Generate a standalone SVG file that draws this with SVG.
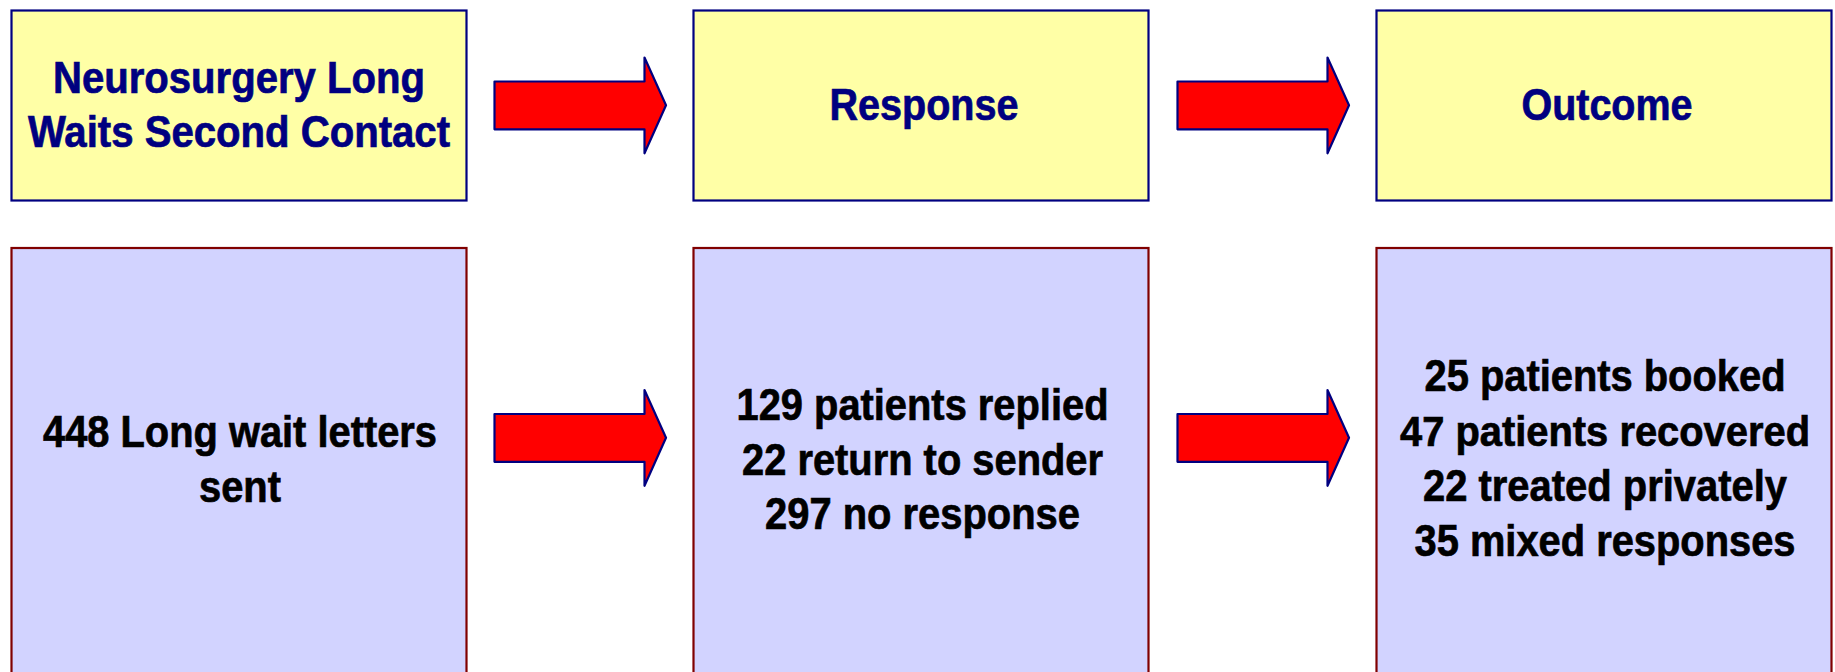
<svg xmlns="http://www.w3.org/2000/svg" width="1835" height="672" viewBox="0 0 1835 672">
<style>
.hdr{fill:#FFFFA6;stroke:#000080;stroke-width:2.2}
.body{fill:#D2D3FF;stroke:#800000;stroke-width:2.2}
.arr{fill:#FF0000;stroke:#000080;stroke-width:2.2;stroke-linejoin:round}
text{font-family:"Liberation Sans",Arial,sans-serif;font-weight:bold;font-size:44px;text-anchor:middle;stroke-width:0.7}
.ht{fill:#000080;stroke:#000080}
.bt{fill:#000000;stroke:#000000}
.sm{font-size:42.5px}
</style>
<rect width="1835" height="672" fill="#FFFFFF"/>
<g id="node-title">
<rect class="hdr" x="11.5" y="10.5" width="455" height="190"/>
<text class="ht" x="239" y="92.5" textLength="372" lengthAdjust="spacingAndGlyphs">Neurosurgery Long</text>
<text class="ht" x="239" y="147" textLength="422" lengthAdjust="spacingAndGlyphs">Waits Second Contact</text>
</g>
<g id="node-response-header">
<rect class="hdr" x="693.5" y="10.5" width="455" height="190"/>
<text class="ht" x="924" y="120" textLength="189" lengthAdjust="spacingAndGlyphs">Response</text>
</g>
<g id="node-outcome-header">
<rect class="hdr" x="1376.5" y="10.5" width="455" height="190"/>
<text class="ht" x="1607" y="120" textLength="171" lengthAdjust="spacingAndGlyphs">Outcome</text>
</g>
<g id="node-letters">
<rect class="body" x="11.5" y="248" width="455" height="440"/>
<text class="bt" x="240" y="447" textLength="394" lengthAdjust="spacingAndGlyphs">448 Long wait letters</text>
<text class="bt" x="240" y="502" textLength="82" lengthAdjust="spacingAndGlyphs">sent</text>
</g>
<g id="node-response">
<rect class="body" x="693.5" y="248" width="455" height="440"/>
<text class="bt" x="922.5" y="420" textLength="372" lengthAdjust="spacingAndGlyphs">129 patients replied</text>
<text class="bt" x="922.5" y="474.5" textLength="361" lengthAdjust="spacingAndGlyphs">22 return to sender</text>
<text class="bt" x="922.5" y="529" textLength="315" lengthAdjust="spacingAndGlyphs">297 no response</text>
</g>
<g id="node-outcome">
<rect class="body" x="1376.5" y="248" width="455" height="440"/>
<text class="bt" x="1605" y="391" textLength="361" lengthAdjust="spacingAndGlyphs">25 patients booked</text>
<text class="bt sm" x="1605" y="446" textLength="410" lengthAdjust="spacingAndGlyphs">47 patients recovered</text>
<text class="bt" x="1605" y="501" textLength="364" lengthAdjust="spacingAndGlyphs">22 treated privately</text>
<text class="bt" x="1605" y="556" textLength="381" lengthAdjust="spacingAndGlyphs">35 mixed responses</text>
</g>
<g id="connectors">
<polygon class="arr" points="494.5,81.5 644.5,81.5 644.5,57.5 666,105.3 644.5,153.3 644.5,129.3 494.5,129.3"/>
<polygon class="arr" points="1177.5,81.5 1327.5,81.5 1327.5,57.5 1349,105.3 1327.5,153.3 1327.5,129.3 1177.5,129.3"/>
<polygon class="arr" points="494.5,414 644.5,414 644.5,390 666,437.8 644.5,485.8 644.5,461.8 494.5,461.8"/>
<polygon class="arr" points="1177.5,414 1327.5,414 1327.5,390 1349,437.8 1327.5,485.8 1327.5,461.8 1177.5,461.8"/>
</g>
</svg>
